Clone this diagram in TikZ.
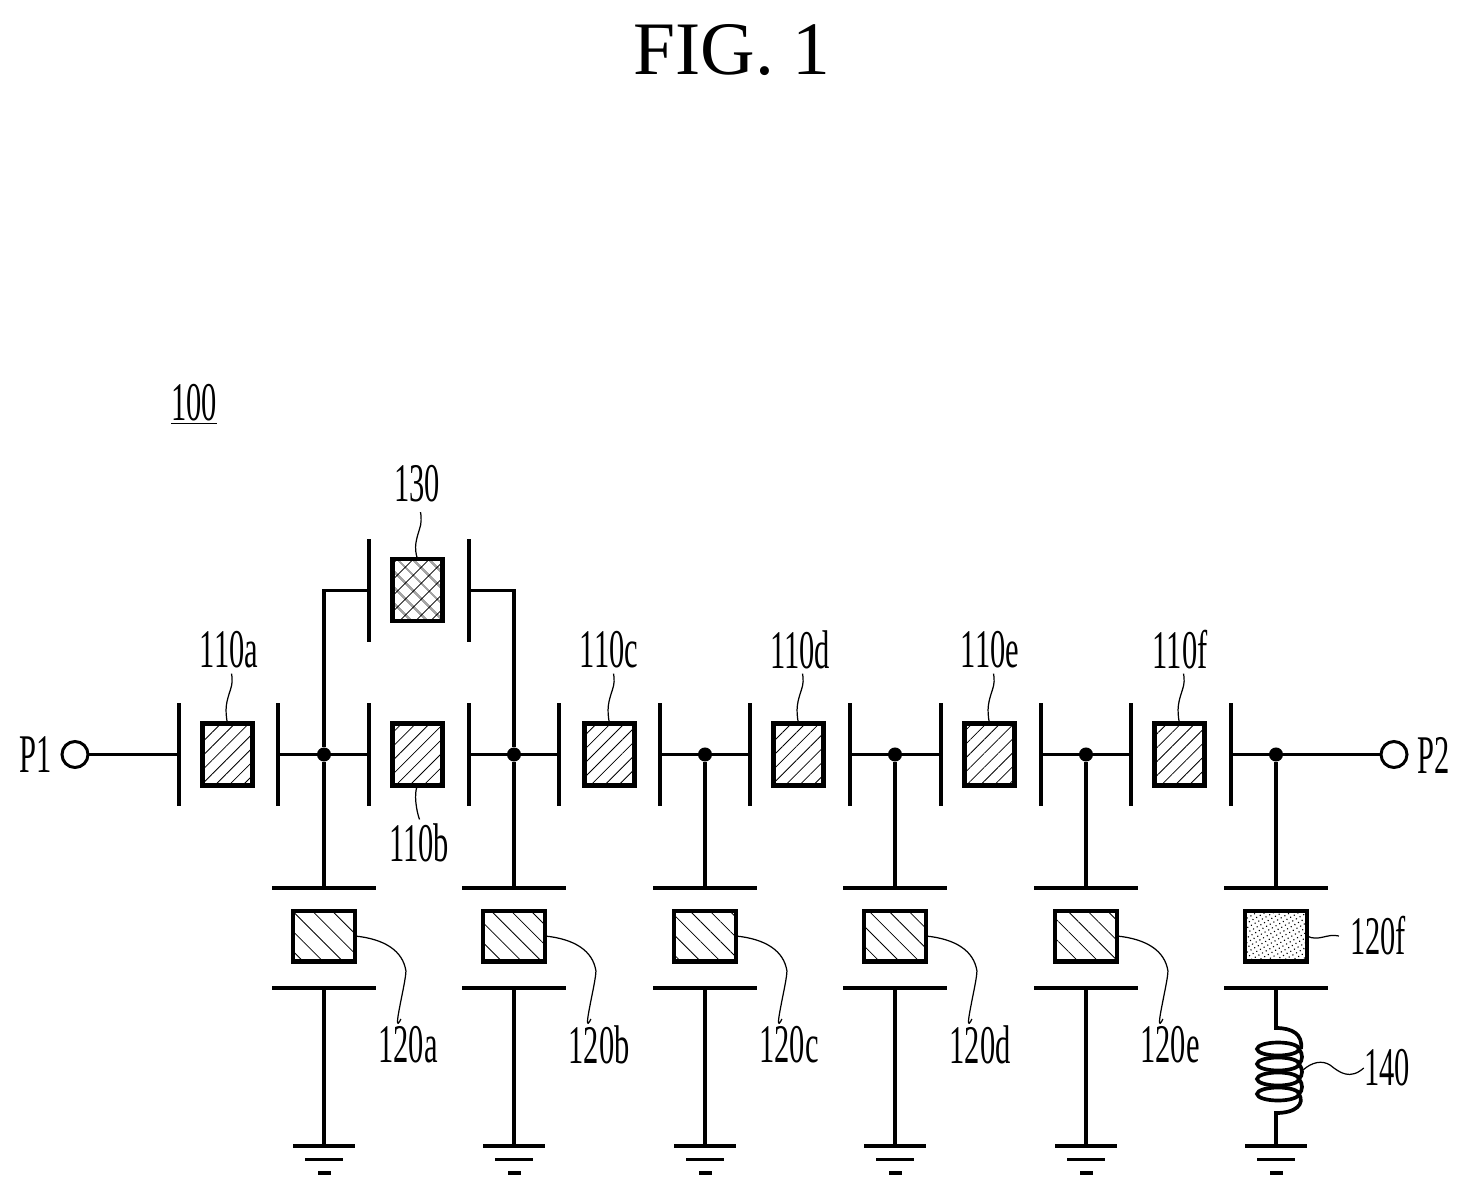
\documentclass[tikz,border=0pt]{standalone}
\usepackage{fontspec}
\setmainfont{Liberation Serif}
\newfontfamily\narrowfont[FakeStretch=0.56]{Liberation Serif}
\usetikzlibrary{patterns.meta}
\tikzset{
  wire/.style={line width=2.1pt},
  leader/.style={line width=0.7pt},
  partlabel/.style={inner sep=0pt, font=\narrowfont\fontsize{31}{31}\selectfont},
  vplate/.style={fill=black, inner sep=0pt, outer sep=0pt, minimum width=2.4pt, minimum height=59pt},
  hplate/.style={fill=black, inner sep=0pt, outer sep=0pt, minimum width=59pt, minimum height=2.4pt},
  gbar/.style={fill=black, inner sep=0pt, outer sep=0pt, minimum height=2.2pt},
  joint/.style={circle, fill=black, inner sep=0pt, minimum size=8pt},
  port/.style={circle, draw, line width=1.7pt, inner sep=0pt, outer sep=0pt, minimum size=14.8pt},
  serbox/.style={draw, line width=2.4pt, inner sep=0pt, outer sep=0pt, minimum width=28.4pt, minimum height=35.2pt,
    pattern={Lines[angle=45, distance=5.6pt, line width=0.45pt]}},
  crossbox/.style={serbox, pattern={Hatch[angle=45, distance=6.4pt, line width=0.45pt]}},
  shbox/.style={draw, line width=2.4pt, inner sep=0pt, outer sep=0pt, minimum width=35.2pt, minimum height=28.9pt,
    pattern={Lines[angle=-45, distance=8pt, line width=0.45pt]}},
  dotbox/.style={shbox, pattern={Dots[angle=30, distance=2.4pt, radius=0.45pt]}}
}
\begin{document}
\begin{tikzpicture}[x=0.02cm, y=-0.02cm]
    \useasboundingbox (0,0) rectangle (1469,1195);

    % Title and reference
    \node[inner sep=0pt, font=\fontsize{43}{43}\selectfont] (title) at (732,50) {FIG. 1};
    \node[partlabel] (n100) at (194,404) {\underline{100}};

    % Ports
    \node[port] (p1) at (75,754.5) {};
    \node[port] (p2) at (1394,754.5) {};
    \node[partlabel, left=0pt] (lp1) at (52,755) {P1};
    \node[partlabel, right=0pt] (lp2) at (1417,755) {P2};

    % Series resonators
    \node[serbox] (a) at (227.5,754.5) {};
    \node[serbox] (b) at (417.5,754.5) {};
    \node[serbox] (c) at (609.5,754.5) {};
    \node[serbox] (d) at (798.5,754.5) {};
    \node[serbox] (e) at (989.5,754.5) {};
    \node[serbox] (f) at (1179.5,754.5) {};
    \node[crossbox] (k) at (417.5,590) {};

    % Plates of the series resonators
    \node[vplate] (a1) at (179,754.5) {};
    \node[vplate] (a2) at (278,754.5) {};
    \node[vplate] (b1) at (369,754.5) {};
    \node[vplate] (b2) at (469,754.5) {};
    \node[vplate] (c1) at (559,754.5) {};
    \node[vplate] (c2) at (660,754.5) {};
    \node[vplate] (d1) at (750,754.5) {};
    \node[vplate] (d2) at (850,754.5) {};
    \node[vplate] (e1) at (941,754.5) {};
    \node[vplate] (e2) at (1041,754.5) {};
    \node[vplate] (f1) at (1131,754.5) {};
    \node[vplate] (f2) at (1231,754.5) {};
    \node[vplate] (k1) at (369,590.5) {};
    \node[vplate] (k2) at (469,590.5) {};

    % Junctions
    \node[joint] (j1) at (324,754.5) {};
    \node[joint] (j2) at (514,754.5) {};
    \node[joint] (j3) at (705,754.5) {};
    \node[joint] (j4) at (895,754.5) {};
    \node[joint] (j5) at (1086,754.5) {};
    \node[joint] (j6) at (1276,754.5) {};

    % Shunt resonators
    \node[shbox] (s1) at (324,936) {};
    \node[shbox] (s2) at (514,936) {};
    \node[shbox] (s3) at (705,936) {};
    \node[shbox] (s4) at (895,936) {};
    \node[shbox] (s5) at (1086,936) {};
    \node[dotbox] (s6) at (1276,936) {};

    % Plates of the shunt resonators
    \node[hplate] (s1t) at (324,888) {};
    \node[hplate] (s2t) at (514,888) {};
    \node[hplate] (s3t) at (705,888) {};
    \node[hplate] (s4t) at (895,888) {};
    \node[hplate] (s5t) at (1086,888) {};
    \node[hplate] (s6t) at (1276,888) {};
    \node[hplate] (s1b) at (324,988) {};
    \node[hplate] (s2b) at (514,988) {};
    \node[hplate] (s3b) at (705,988) {};
    \node[hplate] (s4b) at (895,988) {};
    \node[hplate] (s5b) at (1086,988) {};
    \node[hplate] (s6b) at (1276,988) {};

    % Grounds
    \node[gbar, minimum width=35.3pt] (g1) at (324,1146) {};
    \node[gbar, minimum width=35.3pt] (g2) at (514,1146) {};
    \node[gbar, minimum width=35.3pt] (g3) at (705,1146) {};
    \node[gbar, minimum width=35.3pt] (g4) at (895,1146) {};
    \node[gbar, minimum width=35.3pt] (g5) at (1086,1146) {};
    \node[gbar, minimum width=35.3pt] (g6) at (1276,1146) {};
    \node[gbar, minimum width=21.6pt, minimum height=1.7pt] (h1) at (324,1159) {};
    \node[gbar, minimum width=21.6pt, minimum height=1.7pt] (h2) at (514,1159) {};
    \node[gbar, minimum width=21.6pt, minimum height=1.7pt] (h3) at (705,1159) {};
    \node[gbar, minimum width=21.6pt, minimum height=1.7pt] (h4) at (895,1159) {};
    \node[gbar, minimum width=21.6pt, minimum height=1.7pt] (h5) at (1086,1159) {};
    \node[gbar, minimum width=21.6pt, minimum height=1.7pt] (h6) at (1276,1159) {};
    \node[gbar, minimum width=7.4pt, minimum height=2pt] (i1) at (324,1173) {};
    \node[gbar, minimum width=7.4pt, minimum height=2pt] (i2) at (514,1173) {};
    \node[gbar, minimum width=7.4pt, minimum height=2pt] (i3) at (705,1173) {};
    \node[gbar, minimum width=7.4pt, minimum height=2pt] (i4) at (895,1173) {};
    \node[gbar, minimum width=7.4pt, minimum height=2pt] (i5) at (1086,1173) {};
    \node[gbar, minimum width=7.4pt, minimum height=2pt] (i6) at (1276,1173) {};

    % Main line
    \draw[wire] (p1) -- (a1);
    \draw[wire] (a2) -- (j1) -- (b1);
    \draw[wire] (b2) -- (j2) -- (c1);
    \draw[wire] (c2) -- (j3) -- (d1);
    \draw[wire] (d2) -- (j4) -- (e1);
    \draw[wire] (e2) -- (j5) -- (f1);
    \draw[wire] (f2) -- (j6) -- (p2);

    % Bypass
    \draw[wire] (k1) -| (j1);
    \draw[wire] (k2) -| (j2);

    % Shunt branches
    \draw[wire] (j1) -- (s1t);
    \draw[wire] (j2) -- (s2t);
    \draw[wire] (j3) -- (s3t);
    \draw[wire] (j4) -- (s4t);
    \draw[wire] (j5) -- (s5t);
    \draw[wire] (j6) -- (s6t);
    \draw[wire] (s1b) -- (g1);
    \draw[wire] (s2b) -- (g2);
    \draw[wire] (s3b) -- (g3);
    \draw[wire] (s4b) -- (g4);
    \draw[wire] (s5b) -- (g5);

    % Inductor
    \coordinate (lt) at (1276,1028);
    \coordinate (lb) at (1276,1113);
    \draw[wire] (s6b) -- (lt) .. controls (1292,1028) and (1303,1034) .. (1301,1049);
    \draw[wire] (1278,1049) ellipse [x radius=21, y radius=6.5];
    \draw[wire] (1278,1064) ellipse [x radius=21, y radius=6.5];
    \draw[wire] (1278,1079) ellipse [x radius=21, y radius=6.5];
    \draw[wire] (1278,1094) ellipse [x radius=21, y radius=6.5];
    \draw[wire] (1299,1049) .. controls (1303,1054) and (1303,1060) .. (1299,1064);
    \draw[wire] (1299,1064) .. controls (1303,1069) and (1303,1075) .. (1299,1079);
    \draw[wire] (1299,1079) .. controls (1303,1084) and (1303,1090) .. (1299,1094);
    \draw[wire] (1299,1094) .. controls (1305,1104) and (1296,1113) .. (lb) -- (g6);

    % Part labels
    \node[partlabel] (la) at (229,650) {110a};
    \node[partlabel] (lb1) at (419,843) {110b};
    \node[partlabel] (lc) at (609,650) {110c};
    \node[partlabel] (ld) at (800,650) {110d};
    \node[partlabel] (le) at (990,650) {110e};
    \node[partlabel] (lf) at (1180,650) {110f};
    \node[partlabel] (lk) at (417,484) {130};
    \node[partlabel] (ls1) at (408,1045) {120a};
    \node[partlabel] (ls2) at (599,1045) {120b};
    \node[partlabel] (ls3) at (789,1045) {120c};
    \node[partlabel] (ls4) at (980,1045) {120d};
    \node[partlabel] (ls5) at (1170,1045) {120e};
    \node[partlabel] (ls6) at (1378,936) {120f};
    \node[partlabel] (ll) at (1387,1068) {140};

    % Leaders
    \draw[leader] (a.north) .. controls +(-3,-15) and +(-4,12) .. ++(3,-34) .. controls +(2,-6) and +(1,5) .. ++(1,-16);
    \draw[leader] (b.south) .. controls +(-4,8) and +(-3,-8) .. ++(2,34);
    \draw[leader] (c.north) .. controls +(-3,-15) and +(-4,12) .. ++(3,-34) .. controls +(2,-6) and +(1,5) .. ++(1,-16);
    \draw[leader] (d.north) .. controls +(-3,-15) and +(-4,12) .. ++(3,-34) .. controls +(2,-6) and +(1,5) .. ++(1,-16);
    \draw[leader] (e.north) .. controls +(-3,-15) and +(-4,12) .. ++(3,-34) .. controls +(2,-6) and +(1,5) .. ++(1,-16);
    \draw[leader] (f.north) .. controls +(-3,-15) and +(-4,12) .. ++(3,-34) .. controls +(2,-6) and +(1,5) .. ++(1,-16);
    \draw[leader] (k.north) .. controls +(-4,-12) and +(-3,10) .. ++(2,-30) .. controls +(2,-5) and +(1,4) .. ++(1,-17);
    \draw[leader] (s1.east) .. controls +(30,3) and +(-3,-20) .. ++(51,35) .. controls +(0,12) and +(-10,20) .. ++(-5,48);
    \draw[leader] (s2.east) .. controls +(30,3) and +(-3,-20) .. ++(51,35) .. controls +(0,12) and +(-10,20) .. ++(-5,48);
    \draw[leader] (s3.east) .. controls +(30,3) and +(-3,-20) .. ++(51,35) .. controls +(0,12) and +(-10,20) .. ++(-5,48);
    \draw[leader] (s4.east) .. controls +(30,3) and +(-3,-20) .. ++(51,35) .. controls +(0,12) and +(-10,20) .. ++(-5,48);
    \draw[leader] (s5.east) .. controls +(30,3) and +(-3,-20) .. ++(51,35) .. controls +(0,12) and +(-10,20) .. ++(-5,48);
    \draw[leader] (s6.east) .. controls +(12,6) and +(-12,-3) .. ++(32,0);
    \draw[leader] (1303,1070) .. controls (1312,1062) and (1322,1060) .. (1330,1065) .. controls (1340,1073) and (1350,1080) .. (ll.west);
\end{tikzpicture}
\end{document}
